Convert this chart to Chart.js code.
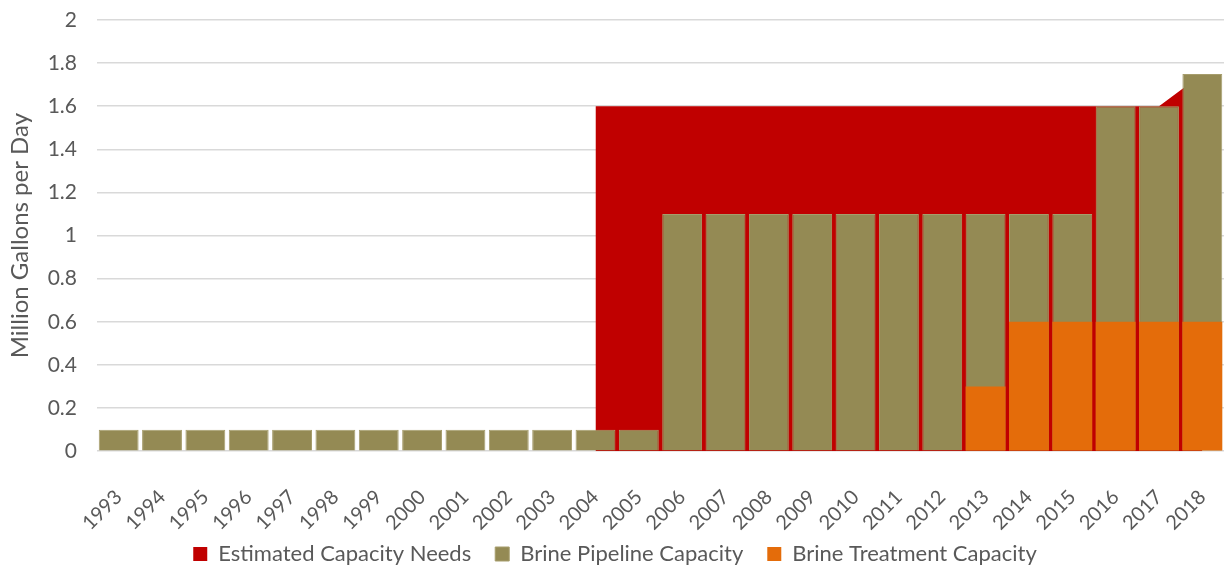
<!DOCTYPE html>
<html>
<head>
<meta charset="utf-8">
<script src="https://cdn.jsdelivr.net/npm/chart.js@4"></script>
<style>
  html, body { margin: 0; padding: 0; background: #fff; }
  #wrap { width: 1224px; height: 567px; }
</style>
</head>
<body>
<div id="wrap"><canvas id="capacityChart"></canvas></div>
<script>
// Chart data
const years = ["1993", "1994", "1995", "1996", "1997", "1998", "1999", "2000", "2001",
  "2002", "2003", "2004", "2005", "2006", "2007", "2008", "2009", "2010", "2011",
  "2012", "2013", "2014", "2015", "2016", "2017", "2018"];

const estimatedNeeds = [null, null, null, null, null, null, null, null, null, null, null,
  1.6, 1.6, 1.6, 1.6, 1.6, 1.6, 1.6, 1.6, 1.6, 1.6, 1.6, 1.6, 1.6, 1.6, 1.75];

const pipelineCapacity = [0.1, 0.1, 0.1, 0.1, 0.1, 0.1, 0.1, 0.1, 0.1, 0.1, 0.1, 0.1, 0.1,
  1.1, 1.1, 1.1, 1.1, 1.1, 1.1, 1.1, 1.1, 1.1, 1.1, 1.6, 1.6, 1.75];

const treatmentCapacity = [null, null, null, null, null, null, null, null, null, null, null,
  null, null, null, null, null, null, null, null, null, 0.3, 0.6, 0.6, 0.6, 0.6, 0.6];

const yTicks = [0, 0.2, 0.4, 0.6, 0.8, 1, 1.2, 1.4, 1.6, 1.8, 2];

const textColor = "#595959";
const fontFamily = "Lato, 'Open Sans', sans-serif";

document.addEventListener("DOMContentLoaded", () => {
  const ctx = document.getElementById("capacityChart");

  new Chart(ctx, {
    data: {
      labels: years,
      datasets: [
        {
          type: "line",
          label: "Estimated Capacity Needs",
          data: estimatedNeeds,
          backgroundColor: "#C00000",
          borderColor: "#C00000",
          borderWidth: 0,
          pointRadius: 0,
          tension: 0,
          fill: "origin",
          order: 3,
        },
        {
          type: "bar",
          label: "Brine Pipeline Capacity",
          data: pipelineCapacity,
          backgroundColor: "#948A54",
          borderColor: "#A69D6C",
          borderWidth: 1,
          barPercentage: 0.92,
          categoryPercentage: 1,
          order: 2,
        },
        {
          type: "bar",
          label: "Brine Treatment Capacity",
          data: treatmentCapacity,
          backgroundColor: "#E46C0A",
          borderWidth: 0,
          barPercentage: 0.92,
          categoryPercentage: 1,
          order: 1,
        },
      ],
    },
    options: {
      responsive: true,
      maintainAspectRatio: false,
      animation: false,
      layout: {
        padding: { left: 6, top: 20, right: 0, bottom: -8 },
      },
      scales: {
        x: {
          stacked: true,
          offset: true,
          grid: { display: false },
          border: { display: false },
          ticks: {
            color: textColor,
            font: { family: fontFamily, size: 20 },
            maxRotation: 45,
            minRotation: 45,
            autoSkip: false,
            padding: 26,
          },
          afterFit: (scale) => {
            // plot reaches the right edge, like the original
            scale.paddingRight = 0;
            scale.height = scale.height - 42;
            // let the rotated year labels run past the shortened axis box
            scale._computeLabelArea = () => null;
          },
        },
        y: {
          stacked: false,
          min: 0,
          max: 2,
          afterBuildTicks: (scale) => {
            scale.ticks = yTicks.map((v) => ({ value: v }));
          },
          afterFit: (scale) => {
            scale.width = 91;
            scale.paddingTop = 0;
            scale.paddingBottom = 0;
          },
          grid: { color: "#D9D9D9", lineWidth: 1.5, drawTicks: false },
          border: { display: false },
          ticks: {
            color: textColor,
            font: { family: fontFamily, size: 21 },
            padding: 20,
            callback: (value) => String(value),
          },
          title: {
            display: true,
            text: "Million Gallons per Day",
            color: textColor,
            font: { family: fontFamily, size: 24 },
            padding: 0,
          },
        },
      },
      plugins: {
        tooltip: { enabled: false },
        legend: {
          position: "bottom",
          labels: {
            color: textColor,
            font: { family: fontFamily, size: 22 },
            boxWidth: 14,
            boxHeight: 14,
            padding: 24,
            sort: (a, b) => a.datasetIndex - b.datasetIndex,
          },
        },
      },
    },
  });
});
</script>
</body>
</html>
